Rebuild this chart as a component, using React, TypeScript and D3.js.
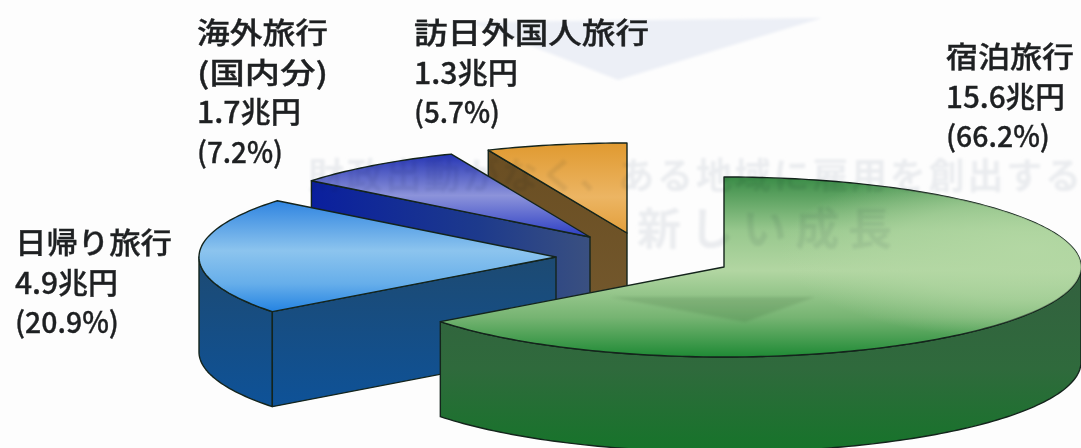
import React from "react";
import * as d3 from "d3";

// Travel consumption in Japan, by category (trillion yen and share of total)
const categories = ["宿泊旅行", "日帰り旅行", "海外旅行", "訪日外国人旅行"];
const subLabels = ["", "", "(国内分)", ""];
const amounts = [15.6, 4.9, 1.7, 1.3];
const shares = [66.2, 20.9, 7.2, 5.7];

// Heading printed on the reverse of the page, showing through the paper
const reverseLines = ["財政出動がなく、ある地域に雇用を創出する", "新しい成長"];

const WIDTH = 1081;
const HEIGHT = 448;
const RX = 357;
const RY = 90;
const DEPTH = 95;

// Where each exploded slice has its apex on the page
const apexes: [number, number][] = [
  [724, 267],
  [556, 257],
  [590, 237],
  [627, 233],
];

// Where each label block starts: left edge and first baseline
const labelAnchors: [number, number][] = [
  [946, 68],
  [15, 254],
  [197, 44],
  [414, 44],
];

// Set width of every label row, in the same order as the rows are drawn
const rowWidths: number[][] = [
  [128, 119, 104],
  [157, 103, 104],
  [131, 131, 104, 86],
  [235, 104, 86],
];

const pie = d3
  .pie<number>()
  .sort(null)
  .startAngle(0)
  .endAngle(2 * Math.PI);
const slices = pie(shares);

// The oblique view draws sectors slightly off their true bearing
const VIEW_SKEW = (6.7 * Math.PI) / 180;
const viewAngle = (a: number) => a + VIEW_SKEW * Math.sin(a);

const rim = (c: [number, number], a: number, dy = 0): [number, number] => [
  c[0] + RX * Math.sin(a),
  c[1] - RY * Math.cos(a) + dy,
];

const line = d3.line<[number, number]>();

function arcPoints(c: [number, number], a0: number, a1: number, dy = 0) {
  const n = Math.max(2, Math.ceil(Math.abs(a1 - a0) / 0.02));
  return d3.range(n + 1).map((i) => rim(c, a0 + ((a1 - a0) * i) / n, dy));
}

function topFace(c: [number, number], a0: number, a1: number) {
  return line([c, ...arcPoints(c, a0, a1)]) + "Z";
}

// Outer wall under the rim between two angles
function rimWall(c: [number, number], a0: number, a1: number) {
  return line([...arcPoints(c, a0, a1), ...arcPoints(c, a1, a0, DEPTH)]) + "Z";
}

// Flat cut face between the apex and a rim point
function cutWall(c: [number, number], a: number) {
  const p = rim(c, a);
  return line([c, p, [p[0], p[1] + DEPTH], [c[0], c[1] + DEPTH]]) + "Z";
}

type Stop = [number, string];
const gradient = (id: string, stops: Stop[], horizontal = false) => (
  <linearGradient
    id={id}
    key={id}
    x1="0"
    y1="0"
    x2={horizontal ? "1" : "0"}
    y2={horizontal ? "0" : "1"}
  >
    {stops.map(([o, col]) => (
      <stop key={o} offset={o} stopColor={col} />
    ))}
  </linearGradient>
);

const STROKE = "#14241c";

function Slice({ index }: { index: number }) {
  const c = apexes[index];
  const a0 = viewAngle(slices[index].startAngle);
  const a1 = viewAngle(slices[index].endAngle);
  const common = { stroke: STROKE, strokeWidth: 1.4, strokeLinejoin: "round" as const };
  if (index === 0) {
    return (
      <g {...common}>
        <path d={rimWall(c, Math.PI / 2, a1)} fill="url(#greenWall)" />
        <path d={topFace(c, a0, a1)} fill="url(#greenTop)" />
        <path d={topFace(c, a0, a1)} fill="url(#greenGlow)" stroke="none" />
      </g>
    );
  }
  if (index === 1) {
    return (
      <g {...common}>
        <path d={rimWall(c, a0, (3 * Math.PI) / 2)} fill="url(#blueWall)" />
        <path d={cutWall(c, a0)} fill="url(#blueWall)" />
        <path d={topFace(c, a0, a1)} fill="url(#blueTop)" />
      </g>
    );
  }
  if (index === 2) {
    return (
      <g {...common}>
        <path d={cutWall(c, a0)} fill="url(#purpleWall)" />
        <path d={topFace(c, a0, a1)} fill="url(#purpleTop)" />
      </g>
    );
  }
  return (
    <g {...common}>
      <path d={cutWall(c, a0)} fill="url(#orangeWall)" />
      <path d={topFace(c, a0, a1)} fill="url(#orangeTop)" />
    </g>
  );
}

function Label({ index }: { index: number }) {
  const [x, y] = labelAnchors[index];
  const rows = [
    categories[index],
    subLabels[index],
    `${amounts[index]}兆円`,
    `(${shares[index]}%)`,
  ].filter(Boolean);
  return (
    <g
      fontFamily="'Noto Sans CJK JP', sans-serif"
      fontWeight={500}
      fontSize={29}
      fill="#1e2022"
      stroke="#1e2022"
      strokeWidth={0.35}
    >
      {rows.map((row, i) => (
        <text
          key={i}
          x={x}
          y={y + i * 39.5}
          textLength={rowWidths[index][i]}
          lengthAdjust="spacingAndGlyphs"
        >
          {row}
        </text>
      ))}
    </g>
  );
}

export default function App() {
  return (
    <svg
      width={WIDTH}
      height={HEIGHT}
      viewBox={`0 0 ${WIDTH} ${HEIGHT}`}
      style={{ position: "absolute", left: 0, top: 0 }}
    >
      <defs>
        {gradient("greenTop", [
          [0, "#3a8c47"],
          [0.3, "#98c88e"],
          [0.52, "#b2d6a2"],
          [0.78, "#76b472"],
          [1, "#1f8a35"],
        ])}
        <radialGradient
          id="greenGlow"
          gradientUnits="userSpaceOnUse"
          cx={0}
          cy={0}
          r={1}
          gradientTransform="translate(1030 250) scale(250 90)"
        >
          <stop offset={0} stopColor="#b4d8a4" stopOpacity={0.95} />
          <stop offset={0.55} stopColor="#b4d8a4" stopOpacity={0.6} />
          <stop offset={1} stopColor="#b4d8a4" stopOpacity={0} />
        </radialGradient>
        {gradient("greenWall", [
          [0, "#33603f"],
          [0.55, "#2f6a3c"],
          [1, "#16742a"],
        ])}
        {gradient("blueTop", [
          [0, "#2f84e0"],
          [0.45, "#8cc4ee"],
          [0.75, "#66aeea"],
          [1, "#2483e2"],
        ])}
        {gradient("blueWall", [
          [0, "#1d4a72"],
          [1, "#0e5298"],
        ])}
        {gradient("purpleTop", [
          [0, "#2434b4"],
          [0.5, "#8c93da"],
          [1, "#2c3ec4"],
        ])}
        {gradient(
          "purpleWall",
          [
            [0, "#0a1f9e"],
            [0.6, "#1d3a8c"],
            [1, "#3a5080"],
          ],
          true
        )}
        {gradient("orangeTop", [
          [0, "#e09a30"],
          [0.6, "#ecb563"],
          [1, "#e39f3c"],
        ])}
        {gradient("orangeWall", [
          [0, "#6a4e22"],
          [1, "#74592e"],
        ])}
        <filter id="soft" x="-5%" y="-20%" width="110%" height="140%">
          <feGaussianBlur stdDeviation="1.8" />
        </filter>
      </defs>
      <rect width={WIDTH} height={HEIGHT} fill="#fdfdfd" />
      {[3, 2, 1, 0].map((i) => (
        <Slice key={i} index={i} />
      ))}
      {/* Show-through from the reverse of the sheet, tinting whatever it crosses */}
      <g
        filter="url(#soft)"
        fill="#eceef1"
        fontFamily="'Noto Sans CJK JP', sans-serif"
        fontWeight={700}
        style={{ mixBlendMode: "multiply" }}
      >
        <polygon points="470,22 822,18 618,80" fill="#eef1f8" />
        <polygon points="610,297 815,297 745,322" fill="#e6eae6" />
        <text x={308} y={189} fontSize={36} textLength={773} lengthAdjust="spacing">
          {reverseLines[0]}
        </text>
        <text x={637} y={245} fontSize={44} textLength={255} lengthAdjust="spacing">
          {reverseLines[1]}
        </text>
      </g>
      {categories.map((_, i) => (
        <Label key={i} index={i} />
      ))}
    </svg>
  );
}
